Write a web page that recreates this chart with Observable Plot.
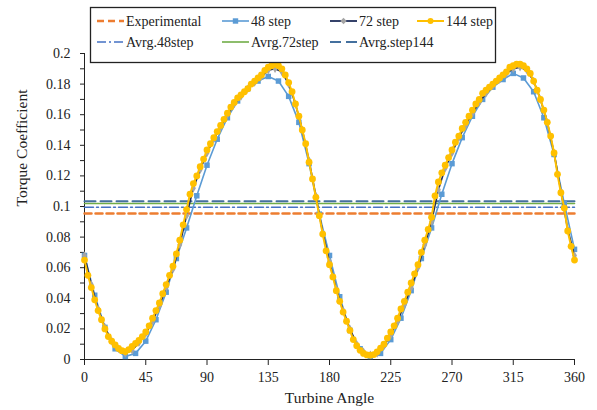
<!DOCTYPE html>
<html>
<head>
<meta charset="utf-8">
<script src="https://cdn.jsdelivr.net/npm/d3@7"></script>
<script src="https://cdn.jsdelivr.net/npm/@observablehq/plot@0.6"></script>
<style>
  html, body { margin: 0; padding: 0; background: #fff; }
  #wrap { position: relative; width: 597px; height: 410px; }
  #wrap, #wrap svg, #wrap text { font-family: "Liberation Serif", Tinos, "Times New Roman", Times, "DejaVu Serif", serif !important; }
  #legend { position: absolute; left: 0; top: 0; pointer-events: none; }
</style>
</head>
<body>
<div id="wrap"></div>
<script>
// ---- data ----
const xTicks = [0, 45, 90, 135, 180, 225, 270, 315, 360];
const yTicks = [0, 0.01, 0.02, 0.03, 0.04, 0.05, 0.06, 0.07, 0.08, 0.09, 0.1,
                0.11, 0.12, 0.13, 0.14, 0.15, 0.16, 0.17, 0.18, 0.19, 0.2];
const yLabels = [0, 0.02, 0.04, 0.06, 0.08, 0.1, 0.12, 0.14, 0.16, 0.18, 0.2];

const seriesNames = ["Experimental", "48 step", "72 step", "144 step",
                     "Avrg.48step", "Avrg.72step", "Avrg.step144"];

// horizontal average levels
const avgExperimental = 0.0955;
const avg48 = 0.0995;
const avg72 = 0.102;
const avg144 = 0.1035;

// 48 step (every 7.5 deg)
const step48 = [0.068, 0.042, 0.021, 0.007, 0.002, 0.004, 0.012, 0.026, 0.044, 0.066,
  0.086, 0.107, 0.127, 0.144, 0.158, 0.169, 0.177, 0.182, 0.185, 0.182,
  0.172, 0.155, 0.128, 0.095, 0.068, 0.041, 0.019, 0.007, 0.002, 0.004,
  0.013, 0.027, 0.045, 0.066, 0.086, 0.108, 0.128, 0.145, 0.159, 0.170,
  0.178, 0.183, 0.187, 0.184, 0.175, 0.158, 0.134, 0.102, 0.072];

// 72 step (every 5 deg)
const step72 = [0.068, 0.049, 0.033, 0.021, 0.012, 0.007, 0.004, 0.006, 0.011, 0.017,
  0.025, 0.035, 0.047, 0.059, 0.075, 0.094, 0.112, 0.124, 0.135, 0.144,
  0.152, 0.160, 0.167, 0.172, 0.177, 0.181, 0.185, 0.189, 0.190, 0.188,
  0.180, 0.167, 0.150, 0.130, 0.107, 0.083, 0.064, 0.046, 0.032, 0.020,
  0.010, 0.005, 0.003, 0.004, 0.009, 0.016, 0.025, 0.036, 0.047, 0.060,
  0.075, 0.090, 0.111, 0.125, 0.135, 0.145, 0.153, 0.161, 0.168, 0.174,
  0.179, 0.183, 0.187, 0.190, 0.191, 0.189, 0.182, 0.170, 0.155, 0.135,
  0.110, 0.085, 0.068];

// 144 step (every 2.5 deg)
const step144 = [0.065, 0.055, 0.047, 0.039, 0.032, 0.026, 0.020, 0.015, 0.012, 0.0095,
  0.0072, 0.0058, 0.0052, 0.0065, 0.0085, 0.0105, 0.0125, 0.015, 0.018, 0.022,
  0.027, 0.032, 0.037, 0.043, 0.049, 0.055, 0.061, 0.069, 0.078, 0.088,
  0.098, 0.108, 0.115, 0.120, 0.126, 0.131, 0.137, 0.141, 0.145, 0.149,
  0.153, 0.157, 0.161, 0.165, 0.168, 0.171, 0.173, 0.175, 0.177, 0.180,
  0.182, 0.184, 0.186, 0.189, 0.191, 0.192, 0.193, 0.192, 0.190, 0.186,
  0.181, 0.175, 0.167, 0.159, 0.150, 0.141, 0.129, 0.118, 0.106, 0.094,
  0.082, 0.071, 0.062, 0.054, 0.045, 0.038, 0.031, 0.025, 0.019, 0.013,
  0.009, 0.006, 0.004, 0.003, 0.0028, 0.0032, 0.005, 0.0075, 0.010, 0.014,
  0.018, 0.022, 0.027, 0.033, 0.038, 0.044, 0.050, 0.056, 0.062, 0.070,
  0.078, 0.085, 0.093, 0.107, 0.116, 0.122, 0.127, 0.132, 0.137, 0.142,
  0.146, 0.151, 0.155, 0.159, 0.163, 0.167, 0.170, 0.174, 0.176, 0.178,
  0.180, 0.182, 0.184, 0.186, 0.188, 0.191, 0.192, 0.193, 0.193, 0.192,
  0.190, 0.187, 0.182, 0.176, 0.170, 0.163, 0.155, 0.146, 0.135, 0.121,
  0.109, 0.099, 0.084, 0.074, 0.065];

// ---- build tables ----
const toRows = (vals) => vals.map((v, i) => ({angle: i * 360 / (vals.length - 1), v}));
const d48 = toRows(step48);
const d72 = toRows(step72);
const d144 = toRows(step144);
const avgRows = (v) => [{angle: 0, v}, {angle: 360, v}];

const C = {
  exp: "#ED7D31", s48: "#5B9BD5", s72: "#1F2D5A", m72: "#A5A5A5",
  s144: "#FFC000", a48: "#4472C4", a72: "#70AD47", a144: "#44709E"
};
const FONT = '"Liberation Serif", Tinos, "Times New Roman", Times, "DejaVu Serif", serif';

const chart = Plot.plot({
  width: 597, height: 410,
  marginLeft: 84, marginRight: 23, marginTop: 53, marginBottom: 51,
  style: {fontFamily: FONT, fontSize: "13px", color: "#222", background: "#fff"},
  x: {domain: [0, 360]},
  y: {domain: [0, 0.2]},
  marks: [
    Plot.axisX({ticks: xTicks, tickSize: 6, tickPadding: 7, label: null, fontSize: 14}),
    Plot.axisY({ticks: yTicks, tickSize: 4, tickPadding: 10, label: null, fontSize: 14,
      tickFormat: d => yLabels.some(t => Math.abs(t - d) < 1e-9) ? String(+d.toFixed(2)) : ""}),
    Plot.ruleX([0], {y1: 0, y2: 0.2, stroke: "#222"}),
    Plot.ruleY([0], {stroke: "#222"}),
    Plot.text(["Turbine Angle"], {frameAnchor: "bottom", dy: 43, fontSize: 15.5, fill: "#222"}),
    Plot.text(["Torque Coefficient"], {frameAnchor: "left", dx: -62, rotate: -90, fontSize: 15.5, fill: "#222"}),
    // average lines
    Plot.line(avgRows(avgExperimental), {x: "angle", y: "v", stroke: C.exp, strokeWidth: 2.5, strokeDasharray: "7,4"}),
    Plot.line(avgRows(avg48), {x: "angle", y: "v", stroke: C.a48, strokeWidth: 1.5, strokeDasharray: "9,3,2,3"}),
    Plot.line(avgRows(avg72), {x: "angle", y: "v", stroke: C.a72, strokeWidth: 1.6}),
    Plot.line(avgRows(avg144), {x: "angle", y: "v", stroke: C.a144, strokeWidth: 2, strokeDasharray: "11,5"}),
    // 48 step
    Plot.line(d48, {x: "angle", y: "v", stroke: C.s48, strokeWidth: 1.6}),
    Plot.dot(d48, {x: "angle", y: "v", symbol: "square", r: 3.1, fill: C.s48, stroke: "none"}),
    // 72 step
    Plot.line(d72, {x: "angle", y: "v", stroke: C.s72, strokeWidth: 1.6}),
    Plot.dot(d72, {x: "angle", y: "v", symbol: "diamond", r: 2.6, fill: C.m72, stroke: "none"}),
    // 144 step
    Plot.line(d144, {x: "angle", y: "v", stroke: C.s144, strokeWidth: 2}),
    Plot.dot(d144, {x: "angle", y: "v", r: 3.4, fill: C.s144, stroke: "none"})
  ]
});

const wrap = document.getElementById("wrap");
wrap.appendChild(chart);

// ---- legend (overlay) ----
const legendItems = [
  {name: seriesNames[0], row: 0, x: 97, stroke: C.exp, w: 2.5, dash: "7,4"},
  {name: seriesNames[1], row: 0, x: 222, stroke: C.s48, w: 1.6, marker: "square", mfill: C.s48},
  {name: seriesNames[2], row: 0, x: 330, stroke: C.s72, w: 1.8, marker: "diamond", mfill: C.m72},
  {name: seriesNames[3], row: 0, x: 417, stroke: C.s144, w: 2, marker: "circle", mfill: C.s144},
  {name: seriesNames[4], row: 1, x: 97, stroke: C.a48, w: 1.5, dash: "9,3,2,3"},
  {name: seriesNames[5], row: 1, x: 222, stroke: C.a72, w: 1.6},
  {name: seriesNames[6], row: 1, x: 330, stroke: C.a144, w: 2, dash: "11,5"}
];
const svg = d3.select(wrap).append("svg")
  .attr("id", "legend").attr("width", 597).attr("height", 70)
  .attr("font-family", FONT);
svg.append("rect").attr("x", 90.5).attr("y", 7.5).attr("width", 405).attr("height", 55)
  .attr("fill", "#fff").attr("stroke", "#222").attr("stroke-width", 1.3);
const rowY = [21, 42];
for (const it of legendItems) {
  const y = rowY[it.row];
  const g = svg.append("g");
  g.append("line").attr("x1", it.x).attr("x2", it.x + 27).attr("y1", y).attr("y2", y)
    .attr("stroke", it.stroke).attr("stroke-width", it.w)
    .attr("stroke-dasharray", it.dash || null);
  const cx = it.x + 13.5;
  if (it.marker === "square") g.append("rect").attr("x", cx - 2.7).attr("y", y - 2.7).attr("width", 5.4).attr("height", 5.4).attr("fill", it.mfill);
  if (it.marker === "diamond") g.append("path").attr("d", `M${cx},${y-3.2}L${cx+3.2},${y}L${cx},${y+3.2}L${cx-3.2},${y}Z`).attr("fill", it.mfill);
  if (it.marker === "circle") g.append("circle").attr("cx", cx).attr("cy", y).attr("r", 3).attr("fill", it.mfill);
  g.append("text").attr("x", it.x + 29).attr("y", y).attr("dy", "0.35em")
    .attr("font-size", 14).attr("fill", "#222").text(it.name);
}
</script>
</body>
</html>
